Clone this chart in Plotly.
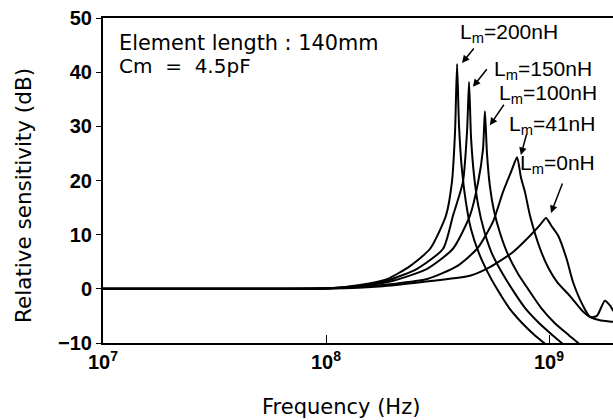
import plotly.graph_objects as go

# Frequencies (Hz) and relative sensitivity (dB)
f_200 = [1e7, 5e7, 1.04e8, 1.42e8, 1.88e8, 2.38e8, 2.93e8, 3.45e8, 3.67e8, 3.79e8, 3.87e8,
         3.95e8, 4.07e8, 4.24e8, 4.47e8, 4.86e8, 5.32e8, 5.84e8, 6.62e8, 7.57e8, 8.65e8, 9.50e8, 1.0e9]
s_200 = [0, 0, 0.1, 0.7, 1.8, 4.2, 7.4, 13.5, 19.7, 29, 41.5,
         30, 22, 16, 11, 6.5, 3, 0, -3.5, -6.3, -8.6, -10, -11]

f_150 = [1e7, 5e7, 1.04e8, 1.42e8, 1.88e8, 2.56e8, 3.35e8, 3.71e8, 4.11e8, 4.29e8, 4.38e8,
         4.47e8, 4.61e8, 4.81e8, 5.11e8, 5.55e8, 6.15e8, 6.82e8, 7.80e8, 9.02e8, 1.04e9, 1.14e9, 1.2e9]
s_150 = [0, 0, 0.1, 0.6, 1.5, 3.7, 7.4, 13.5, 19.7, 29, 38.2,
         28, 21, 15.5, 10.8, 6.5, 3, 0, -3.5, -6.3, -8.6, -10, -11]

f_100 = [1e7, 5e7, 1.04e8, 1.42e8, 2.00e8, 2.84e8, 3.71e8, 4.42e8, 4.81e8, 5.06e8, 5.16e8,
         5.27e8, 5.43e8, 5.66e8, 6.03e8, 6.55e8, 7.26e8, 8.05e8, 9.21e8, 1.06e9, 1.23e9, 1.35e9, 1.42e9]
s_100 = [0, 0, 0.1, 0.5, 1.5, 3.7, 7.4, 13.5, 19.7, 25.8, 32.8,
         25, 19, 14.5, 10.3, 6.3, 2.8, 0, -3.5, -6.3, -8.6, -10, -11]

f_41 = [1e7, 5e7, 1.04e8, 1.42e8, 2.00e8, 2.84e8, 3.87e8, 4.76e8, 5.61e8, 6.22e8, 6.82e8, 7.19e8,
        7.49e8, 7.80e8, 8.22e8, 9.12e8, 9.90e8, 1.09e9, 1.24e9, 1.42e9, 1.53e9, 1.69e9, 1.94e9, 2.08e9]
s_41 = [0, 0, 0.1, 0.4, 0.9, 1.8, 4.2, 7.4, 12.4, 17.9, 22, 24.3,
        20.5, 17.9, 13.5, 7.4, 4, 1.2, -1.3, -4.2, -5.2, -5.8, -6.1, -6.3]

f_0 = [1e7, 5e7, 1.04e8, 1.80e8, 3.02e8, 4.42e8, 5.43e8, 6.90e8, 8.22e8, 9.12e8, 9.70e8,
       1.03e9, 1.10e9, 1.20e9, 1.28e9, 1.42e9, 1.53e9, 1.64e9, 1.78e9, 1.88e9, 1.94e9, 2.08e9]
s_0 = [0, 0, 0.05, 0.5, 1.5, 2.4, 4, 6.8, 9.8, 11.8, 13.1,
       11.5, 9.8, 5.5, 1.3, -3.1, -5.2, -5.0, -2.2, -3.1, -4.0, -5]

series = [("200nH", f_200, s_200), ("150nH", f_150, s_150), ("100nH", f_100, s_100),
          ("41nH", f_41, s_41), ("0nH", f_0, s_0)]

x_tick_vals = [1e7, 1e8, 1e9]
x_tick_text = ["10<sup>7</sup>", "10<sup>8</sup>", "10<sup>9</sup>"]
y_tick_vals = [-10, 0, 10, 20, 30, 40, 50]
y_tick_text = ["\u221210", "0", "10", "20", "30", "40", "50"]

fig = go.Figure()
for name, f, s in series:
    fig.add_trace(go.Scatter(x=f, y=s, mode="lines", name=name,
                             line=dict(color="black", width=2, shape="spline", smoothing=0.6),
                             showlegend=False, hoverinfo="skip"))

W, H = 613, 420
L, R, T, B = 103, 0, 18, 77

tick_font = dict(family="Liberation Sans, Arial, sans-serif", size=20, color="black", weight="bold")

fig.update_layout(
    width=W, height=H,
    margin=dict(l=L, r=R, t=T, b=B, pad=0),
    paper_bgcolor="white", plot_bgcolor="white",
    font=dict(family="Liberation Sans, Arial, sans-serif", color="black", size=20),
)
fig.update_xaxes(type="log", range=[7, 9.287], tickvals=x_tick_vals, ticktext=x_tick_text,
                 ticks="inside", ticklen=8, tickwidth=1.2, tickcolor="black",
                 showline=True, linecolor="black", linewidth=2, mirror=True,
                 showgrid=False, zeroline=False, tickfont=tick_font)
fig.update_yaxes(range=[-10, 50], tickvals=y_tick_vals, ticktext=y_tick_text,
                 ticks="outside", ticklen=5, tickwidth=1.2, tickcolor="black",
                 showline=True, linecolor="black", linewidth=2, mirror=False,
                 showgrid=False, zeroline=False, tickfont=tick_font,
                 ticklabelstandoff=0)

txt_font = dict(family="DejaVu Sans, sans-serif", size=20, color="black")
lab_font = dict(family="Liberation Sans, Arial, sans-serif", size=21, color="black")

def px2paper(px, py):
    return (px - L) / (W - L - R), (H - B - py) / (H - T - B)

anns = []
x, y = px2paper(341, 407)
anns.append(dict(text="Frequency (Hz)", x=x, y=y, xref="paper", yref="paper",
                 showarrow=False, xanchor="center", yanchor="middle", font=dict(txt_font, size=21)))
x, y = px2paper(23, 196)
anns.append(dict(text="Relative sensitivity (dB)", x=x, y=y, xref="paper", yref="paper",
                 showarrow=False, xanchor="center", yanchor="middle", textangle=-90,
                 font=dict(txt_font, size=21.5)))
x, y = px2paper(117, 43)
anns.append(dict(text="Element length : 140mm", x=x, y=y, xref="paper", yref="paper",
                 showarrow=False, xanchor="left", yanchor="middle", font=dict(txt_font, size=20.8)))
x, y = px2paper(117, 66)
anns.append(dict(text="Cm \u00a0=\u00a0 4.5pF", x=x, y=y, xref="paper", yref="paper",
                 showarrow=False, xanchor="left", yanchor="middle", font=dict(txt_font, size=20)))

labels = [("200nH", 458, 33), ("150nH", 492, 70), ("100nH", 497, 94), ("41nH", 507, 125), ("0nH", 518, 164)]
for name, lx, ly in labels:
    x, y = px2paper(lx, ly)
    anns.append(dict(text="L<sub>m</sub>=" + name, x=x, y=y, xref="paper", yref="paper",
                     showarrow=False, xanchor="left", yanchor="middle", font=lab_font))

# arrows: tip in data coordinates, tail offset in pixels
arrows = [(8.610, 41.7, 13, -16), (8.659, 37.3, 15, -19), (8.735, 30.2, 15, -22),
          (8.874, 24.7, 6, -22), (9.009, 14.0, 12, -31)]
for ax_, ay_, dx, dy in arrows:
    anns.append(dict(text="", x=ax_, y=ay_, xref="x", yref="y", showarrow=True,
                     ax=dx, ay=dy, arrowhead=2, arrowsize=1, arrowwidth=1.5, arrowcolor="black",
                     standoff=0, startstandoff=0))

fig.update_layout(annotations=anns)
fig.write_html("out.html")
